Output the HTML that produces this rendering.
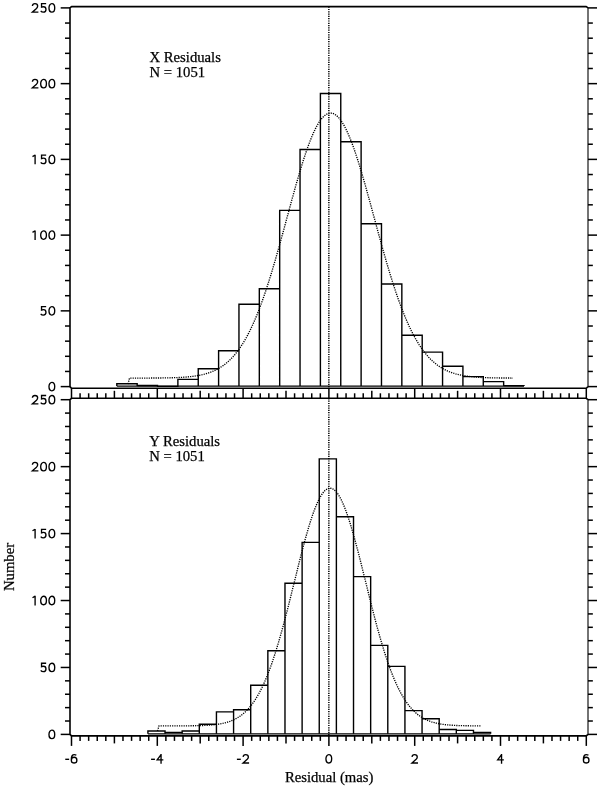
<!DOCTYPE html>
<html><head><meta charset="utf-8"><style>
html,body{margin:0;padding:0;background:#fff;}
body{width:600px;height:790px;overflow:hidden;}
svg{display:block;will-change:transform;}
.tl{font-family:"Liberation Sans",sans-serif;font-size:14px;fill:#000;}
.tt{font-family:"Liberation Serif",serif;font-size:14.7px;fill:#000;}
.tl,.tt{stroke:#000;stroke-width:0.25px;}
</style></head><body>
<svg width="600" height="790" viewBox="0 0 600 790">
<g stroke="#000" stroke-linecap="butt">
<path d="M588.0,7.90 L586.30,6.6 L71.50,6.6 L70.0,7.90 L70.0,386.60 L71.50,388.25 L586.30,388.25 L588.0,386.60" fill="none" stroke-width="1.6" stroke-linejoin="round"/>
<path d="M588.0,7.90 V386.60" fill="none" stroke-width="1.1"/>
<line x1="60.70" y1="386.60" x2="70.00" y2="386.60" stroke-width="1.5" />
<line x1="588.00" y1="386.60" x2="597.02" y2="386.60" stroke-width="1.5" />
<line x1="65.00" y1="371.45" x2="70.00" y2="371.45" stroke-width="1.5" />
<line x1="588.00" y1="371.45" x2="592.85" y2="371.45" stroke-width="1.5" />
<line x1="65.00" y1="356.30" x2="70.00" y2="356.30" stroke-width="1.5" />
<line x1="588.00" y1="356.30" x2="592.85" y2="356.30" stroke-width="1.5" />
<line x1="65.00" y1="341.16" x2="70.00" y2="341.16" stroke-width="1.5" />
<line x1="588.00" y1="341.16" x2="592.85" y2="341.16" stroke-width="1.5" />
<line x1="65.00" y1="326.01" x2="70.00" y2="326.01" stroke-width="1.5" />
<line x1="588.00" y1="326.01" x2="592.85" y2="326.01" stroke-width="1.5" />
<line x1="60.70" y1="310.86" x2="70.00" y2="310.86" stroke-width="1.5" />
<line x1="588.00" y1="310.86" x2="597.02" y2="310.86" stroke-width="1.5" />
<line x1="65.00" y1="295.71" x2="70.00" y2="295.71" stroke-width="1.5" />
<line x1="588.00" y1="295.71" x2="592.85" y2="295.71" stroke-width="1.5" />
<line x1="65.00" y1="280.56" x2="70.00" y2="280.56" stroke-width="1.5" />
<line x1="588.00" y1="280.56" x2="592.85" y2="280.56" stroke-width="1.5" />
<line x1="65.00" y1="265.42" x2="70.00" y2="265.42" stroke-width="1.5" />
<line x1="588.00" y1="265.42" x2="592.85" y2="265.42" stroke-width="1.5" />
<line x1="65.00" y1="250.27" x2="70.00" y2="250.27" stroke-width="1.5" />
<line x1="588.00" y1="250.27" x2="592.85" y2="250.27" stroke-width="1.5" />
<line x1="60.70" y1="235.12" x2="70.00" y2="235.12" stroke-width="1.5" />
<line x1="588.00" y1="235.12" x2="597.02" y2="235.12" stroke-width="1.5" />
<line x1="65.00" y1="219.97" x2="70.00" y2="219.97" stroke-width="1.5" />
<line x1="588.00" y1="219.97" x2="592.85" y2="219.97" stroke-width="1.5" />
<line x1="65.00" y1="204.82" x2="70.00" y2="204.82" stroke-width="1.5" />
<line x1="588.00" y1="204.82" x2="592.85" y2="204.82" stroke-width="1.5" />
<line x1="65.00" y1="189.68" x2="70.00" y2="189.68" stroke-width="1.5" />
<line x1="588.00" y1="189.68" x2="592.85" y2="189.68" stroke-width="1.5" />
<line x1="65.00" y1="174.53" x2="70.00" y2="174.53" stroke-width="1.5" />
<line x1="588.00" y1="174.53" x2="592.85" y2="174.53" stroke-width="1.5" />
<line x1="60.70" y1="159.38" x2="70.00" y2="159.38" stroke-width="1.5" />
<line x1="588.00" y1="159.38" x2="597.02" y2="159.38" stroke-width="1.5" />
<line x1="65.00" y1="144.23" x2="70.00" y2="144.23" stroke-width="1.5" />
<line x1="588.00" y1="144.23" x2="592.85" y2="144.23" stroke-width="1.5" />
<line x1="65.00" y1="129.08" x2="70.00" y2="129.08" stroke-width="1.5" />
<line x1="588.00" y1="129.08" x2="592.85" y2="129.08" stroke-width="1.5" />
<line x1="65.00" y1="113.94" x2="70.00" y2="113.94" stroke-width="1.5" />
<line x1="588.00" y1="113.94" x2="592.85" y2="113.94" stroke-width="1.5" />
<line x1="65.00" y1="98.79" x2="70.00" y2="98.79" stroke-width="1.5" />
<line x1="588.00" y1="98.79" x2="592.85" y2="98.79" stroke-width="1.5" />
<line x1="60.70" y1="83.64" x2="70.00" y2="83.64" stroke-width="1.5" />
<line x1="588.00" y1="83.64" x2="597.02" y2="83.64" stroke-width="1.5" />
<line x1="65.00" y1="68.49" x2="70.00" y2="68.49" stroke-width="1.5" />
<line x1="588.00" y1="68.49" x2="592.85" y2="68.49" stroke-width="1.5" />
<line x1="65.00" y1="53.34" x2="70.00" y2="53.34" stroke-width="1.5" />
<line x1="588.00" y1="53.34" x2="592.85" y2="53.34" stroke-width="1.5" />
<line x1="65.00" y1="38.20" x2="70.00" y2="38.20" stroke-width="1.5" />
<line x1="588.00" y1="38.20" x2="592.85" y2="38.20" stroke-width="1.5" />
<line x1="65.00" y1="23.05" x2="70.00" y2="23.05" stroke-width="1.5" />
<line x1="588.00" y1="23.05" x2="592.85" y2="23.05" stroke-width="1.5" />
<line x1="60.70" y1="7.90" x2="70.00" y2="7.90" stroke-width="1.5" />
<line x1="588.00" y1="7.90" x2="597.02" y2="7.90" stroke-width="1.5" />
<path d="M588.0,399.70 L586.30,398.3 L71.50,398.3 L70.0,399.70 L70.0,734.40 L71.50,735.9 L586.30,735.9 L588.0,734.40" fill="none" stroke-width="1.6" stroke-linejoin="round"/>
<path d="M588.0,399.70 V734.40" fill="none" stroke-width="1.1"/>
<line x1="60.70" y1="734.40" x2="70.00" y2="734.40" stroke-width="1.5" />
<line x1="588.00" y1="734.40" x2="597.02" y2="734.40" stroke-width="1.5" />
<line x1="65.00" y1="721.01" x2="70.00" y2="721.01" stroke-width="1.5" />
<line x1="588.00" y1="721.01" x2="592.85" y2="721.01" stroke-width="1.5" />
<line x1="65.00" y1="707.62" x2="70.00" y2="707.62" stroke-width="1.5" />
<line x1="588.00" y1="707.62" x2="592.85" y2="707.62" stroke-width="1.5" />
<line x1="65.00" y1="694.24" x2="70.00" y2="694.24" stroke-width="1.5" />
<line x1="588.00" y1="694.24" x2="592.85" y2="694.24" stroke-width="1.5" />
<line x1="65.00" y1="680.85" x2="70.00" y2="680.85" stroke-width="1.5" />
<line x1="588.00" y1="680.85" x2="592.85" y2="680.85" stroke-width="1.5" />
<line x1="60.70" y1="667.46" x2="70.00" y2="667.46" stroke-width="1.5" />
<line x1="588.00" y1="667.46" x2="597.02" y2="667.46" stroke-width="1.5" />
<line x1="65.00" y1="654.07" x2="70.00" y2="654.07" stroke-width="1.5" />
<line x1="588.00" y1="654.07" x2="592.85" y2="654.07" stroke-width="1.5" />
<line x1="65.00" y1="640.68" x2="70.00" y2="640.68" stroke-width="1.5" />
<line x1="588.00" y1="640.68" x2="592.85" y2="640.68" stroke-width="1.5" />
<line x1="65.00" y1="627.30" x2="70.00" y2="627.30" stroke-width="1.5" />
<line x1="588.00" y1="627.30" x2="592.85" y2="627.30" stroke-width="1.5" />
<line x1="65.00" y1="613.91" x2="70.00" y2="613.91" stroke-width="1.5" />
<line x1="588.00" y1="613.91" x2="592.85" y2="613.91" stroke-width="1.5" />
<line x1="60.70" y1="600.52" x2="70.00" y2="600.52" stroke-width="1.5" />
<line x1="588.00" y1="600.52" x2="597.02" y2="600.52" stroke-width="1.5" />
<line x1="65.00" y1="587.13" x2="70.00" y2="587.13" stroke-width="1.5" />
<line x1="588.00" y1="587.13" x2="592.85" y2="587.13" stroke-width="1.5" />
<line x1="65.00" y1="573.74" x2="70.00" y2="573.74" stroke-width="1.5" />
<line x1="588.00" y1="573.74" x2="592.85" y2="573.74" stroke-width="1.5" />
<line x1="65.00" y1="560.36" x2="70.00" y2="560.36" stroke-width="1.5" />
<line x1="588.00" y1="560.36" x2="592.85" y2="560.36" stroke-width="1.5" />
<line x1="65.00" y1="546.97" x2="70.00" y2="546.97" stroke-width="1.5" />
<line x1="588.00" y1="546.97" x2="592.85" y2="546.97" stroke-width="1.5" />
<line x1="60.70" y1="533.58" x2="70.00" y2="533.58" stroke-width="1.5" />
<line x1="588.00" y1="533.58" x2="597.02" y2="533.58" stroke-width="1.5" />
<line x1="65.00" y1="520.19" x2="70.00" y2="520.19" stroke-width="1.5" />
<line x1="588.00" y1="520.19" x2="592.85" y2="520.19" stroke-width="1.5" />
<line x1="65.00" y1="506.80" x2="70.00" y2="506.80" stroke-width="1.5" />
<line x1="588.00" y1="506.80" x2="592.85" y2="506.80" stroke-width="1.5" />
<line x1="65.00" y1="493.42" x2="70.00" y2="493.42" stroke-width="1.5" />
<line x1="588.00" y1="493.42" x2="592.85" y2="493.42" stroke-width="1.5" />
<line x1="65.00" y1="480.03" x2="70.00" y2="480.03" stroke-width="1.5" />
<line x1="588.00" y1="480.03" x2="592.85" y2="480.03" stroke-width="1.5" />
<line x1="60.70" y1="466.64" x2="70.00" y2="466.64" stroke-width="1.5" />
<line x1="588.00" y1="466.64" x2="597.02" y2="466.64" stroke-width="1.5" />
<line x1="65.00" y1="453.25" x2="70.00" y2="453.25" stroke-width="1.5" />
<line x1="588.00" y1="453.25" x2="592.85" y2="453.25" stroke-width="1.5" />
<line x1="65.00" y1="439.86" x2="70.00" y2="439.86" stroke-width="1.5" />
<line x1="588.00" y1="439.86" x2="592.85" y2="439.86" stroke-width="1.5" />
<line x1="65.00" y1="426.48" x2="70.00" y2="426.48" stroke-width="1.5" />
<line x1="588.00" y1="426.48" x2="592.85" y2="426.48" stroke-width="1.5" />
<line x1="65.00" y1="413.09" x2="70.00" y2="413.09" stroke-width="1.5" />
<line x1="588.00" y1="413.09" x2="592.85" y2="413.09" stroke-width="1.5" />
<line x1="60.70" y1="399.70" x2="70.00" y2="399.70" stroke-width="1.5" />
<line x1="588.00" y1="399.70" x2="597.02" y2="399.70" stroke-width="1.5" />
<line x1="71.50" y1="398.30" x2="71.50" y2="388.30" stroke-width="1.5" />
<line x1="71.50" y1="735.90" x2="71.50" y2="745.90" stroke-width="1.5" />
<line x1="80.08" y1="398.30" x2="80.08" y2="393.30" stroke-width="1.5" />
<line x1="80.08" y1="735.90" x2="80.08" y2="740.90" stroke-width="1.5" />
<line x1="88.66" y1="398.30" x2="88.66" y2="393.30" stroke-width="1.5" />
<line x1="88.66" y1="735.90" x2="88.66" y2="740.90" stroke-width="1.5" />
<line x1="97.24" y1="398.30" x2="97.24" y2="393.30" stroke-width="1.5" />
<line x1="97.24" y1="735.90" x2="97.24" y2="740.90" stroke-width="1.5" />
<line x1="105.82" y1="398.30" x2="105.82" y2="393.30" stroke-width="1.5" />
<line x1="105.82" y1="735.90" x2="105.82" y2="740.90" stroke-width="1.5" />
<line x1="114.40" y1="398.30" x2="114.40" y2="390.80" stroke-width="1.5" />
<line x1="114.40" y1="735.90" x2="114.40" y2="743.40" stroke-width="1.5" />
<line x1="122.98" y1="398.30" x2="122.98" y2="393.30" stroke-width="1.5" />
<line x1="122.98" y1="735.90" x2="122.98" y2="740.90" stroke-width="1.5" />
<line x1="131.56" y1="398.30" x2="131.56" y2="393.30" stroke-width="1.5" />
<line x1="131.56" y1="735.90" x2="131.56" y2="740.90" stroke-width="1.5" />
<line x1="140.14" y1="398.30" x2="140.14" y2="393.30" stroke-width="1.5" />
<line x1="140.14" y1="735.90" x2="140.14" y2="740.90" stroke-width="1.5" />
<line x1="148.72" y1="398.30" x2="148.72" y2="393.30" stroke-width="1.5" />
<line x1="148.72" y1="735.90" x2="148.72" y2="740.90" stroke-width="1.5" />
<line x1="157.30" y1="398.30" x2="157.30" y2="388.30" stroke-width="1.5" />
<line x1="157.30" y1="735.90" x2="157.30" y2="745.90" stroke-width="1.5" />
<line x1="165.88" y1="398.30" x2="165.88" y2="393.30" stroke-width="1.5" />
<line x1="165.88" y1="735.90" x2="165.88" y2="740.90" stroke-width="1.5" />
<line x1="174.46" y1="398.30" x2="174.46" y2="393.30" stroke-width="1.5" />
<line x1="174.46" y1="735.90" x2="174.46" y2="740.90" stroke-width="1.5" />
<line x1="183.04" y1="398.30" x2="183.04" y2="393.30" stroke-width="1.5" />
<line x1="183.04" y1="735.90" x2="183.04" y2="740.90" stroke-width="1.5" />
<line x1="191.62" y1="398.30" x2="191.62" y2="393.30" stroke-width="1.5" />
<line x1="191.62" y1="735.90" x2="191.62" y2="740.90" stroke-width="1.5" />
<line x1="200.20" y1="398.30" x2="200.20" y2="390.80" stroke-width="1.5" />
<line x1="200.20" y1="735.90" x2="200.20" y2="743.40" stroke-width="1.5" />
<line x1="208.78" y1="398.30" x2="208.78" y2="393.30" stroke-width="1.5" />
<line x1="208.78" y1="735.90" x2="208.78" y2="740.90" stroke-width="1.5" />
<line x1="217.36" y1="398.30" x2="217.36" y2="393.30" stroke-width="1.5" />
<line x1="217.36" y1="735.90" x2="217.36" y2="740.90" stroke-width="1.5" />
<line x1="225.94" y1="398.30" x2="225.94" y2="393.30" stroke-width="1.5" />
<line x1="225.94" y1="735.90" x2="225.94" y2="740.90" stroke-width="1.5" />
<line x1="234.52" y1="398.30" x2="234.52" y2="393.30" stroke-width="1.5" />
<line x1="234.52" y1="735.90" x2="234.52" y2="740.90" stroke-width="1.5" />
<line x1="243.10" y1="398.30" x2="243.10" y2="388.30" stroke-width="1.5" />
<line x1="243.10" y1="735.90" x2="243.10" y2="745.90" stroke-width="1.5" />
<line x1="251.68" y1="398.30" x2="251.68" y2="393.30" stroke-width="1.5" />
<line x1="251.68" y1="735.90" x2="251.68" y2="740.90" stroke-width="1.5" />
<line x1="260.26" y1="398.30" x2="260.26" y2="393.30" stroke-width="1.5" />
<line x1="260.26" y1="735.90" x2="260.26" y2="740.90" stroke-width="1.5" />
<line x1="268.84" y1="398.30" x2="268.84" y2="393.30" stroke-width="1.5" />
<line x1="268.84" y1="735.90" x2="268.84" y2="740.90" stroke-width="1.5" />
<line x1="277.42" y1="398.30" x2="277.42" y2="393.30" stroke-width="1.5" />
<line x1="277.42" y1="735.90" x2="277.42" y2="740.90" stroke-width="1.5" />
<line x1="286.00" y1="398.30" x2="286.00" y2="390.80" stroke-width="1.5" />
<line x1="286.00" y1="735.90" x2="286.00" y2="743.40" stroke-width="1.5" />
<line x1="294.58" y1="398.30" x2="294.58" y2="393.30" stroke-width="1.5" />
<line x1="294.58" y1="735.90" x2="294.58" y2="740.90" stroke-width="1.5" />
<line x1="303.16" y1="398.30" x2="303.16" y2="393.30" stroke-width="1.5" />
<line x1="303.16" y1="735.90" x2="303.16" y2="740.90" stroke-width="1.5" />
<line x1="311.74" y1="398.30" x2="311.74" y2="393.30" stroke-width="1.5" />
<line x1="311.74" y1="735.90" x2="311.74" y2="740.90" stroke-width="1.5" />
<line x1="320.32" y1="398.30" x2="320.32" y2="393.30" stroke-width="1.5" />
<line x1="320.32" y1="735.90" x2="320.32" y2="740.90" stroke-width="1.5" />
<line x1="328.90" y1="398.30" x2="328.90" y2="388.30" stroke-width="1.5" />
<line x1="328.90" y1="735.90" x2="328.90" y2="745.90" stroke-width="1.5" />
<line x1="337.48" y1="398.30" x2="337.48" y2="393.30" stroke-width="1.5" />
<line x1="337.48" y1="735.90" x2="337.48" y2="740.90" stroke-width="1.5" />
<line x1="346.06" y1="398.30" x2="346.06" y2="393.30" stroke-width="1.5" />
<line x1="346.06" y1="735.90" x2="346.06" y2="740.90" stroke-width="1.5" />
<line x1="354.64" y1="398.30" x2="354.64" y2="393.30" stroke-width="1.5" />
<line x1="354.64" y1="735.90" x2="354.64" y2="740.90" stroke-width="1.5" />
<line x1="363.22" y1="398.30" x2="363.22" y2="393.30" stroke-width="1.5" />
<line x1="363.22" y1="735.90" x2="363.22" y2="740.90" stroke-width="1.5" />
<line x1="371.80" y1="398.30" x2="371.80" y2="390.80" stroke-width="1.5" />
<line x1="371.80" y1="735.90" x2="371.80" y2="743.40" stroke-width="1.5" />
<line x1="380.38" y1="398.30" x2="380.38" y2="393.30" stroke-width="1.5" />
<line x1="380.38" y1="735.90" x2="380.38" y2="740.90" stroke-width="1.5" />
<line x1="388.96" y1="398.30" x2="388.96" y2="393.30" stroke-width="1.5" />
<line x1="388.96" y1="735.90" x2="388.96" y2="740.90" stroke-width="1.5" />
<line x1="397.54" y1="398.30" x2="397.54" y2="393.30" stroke-width="1.5" />
<line x1="397.54" y1="735.90" x2="397.54" y2="740.90" stroke-width="1.5" />
<line x1="406.12" y1="398.30" x2="406.12" y2="393.30" stroke-width="1.5" />
<line x1="406.12" y1="735.90" x2="406.12" y2="740.90" stroke-width="1.5" />
<line x1="414.70" y1="398.30" x2="414.70" y2="388.30" stroke-width="1.5" />
<line x1="414.70" y1="735.90" x2="414.70" y2="745.90" stroke-width="1.5" />
<line x1="423.28" y1="398.30" x2="423.28" y2="393.30" stroke-width="1.5" />
<line x1="423.28" y1="735.90" x2="423.28" y2="740.90" stroke-width="1.5" />
<line x1="431.86" y1="398.30" x2="431.86" y2="393.30" stroke-width="1.5" />
<line x1="431.86" y1="735.90" x2="431.86" y2="740.90" stroke-width="1.5" />
<line x1="440.44" y1="398.30" x2="440.44" y2="393.30" stroke-width="1.5" />
<line x1="440.44" y1="735.90" x2="440.44" y2="740.90" stroke-width="1.5" />
<line x1="449.02" y1="398.30" x2="449.02" y2="393.30" stroke-width="1.5" />
<line x1="449.02" y1="735.90" x2="449.02" y2="740.90" stroke-width="1.5" />
<line x1="457.60" y1="398.30" x2="457.60" y2="390.80" stroke-width="1.5" />
<line x1="457.60" y1="735.90" x2="457.60" y2="743.40" stroke-width="1.5" />
<line x1="466.18" y1="398.30" x2="466.18" y2="393.30" stroke-width="1.5" />
<line x1="466.18" y1="735.90" x2="466.18" y2="740.90" stroke-width="1.5" />
<line x1="474.76" y1="398.30" x2="474.76" y2="393.30" stroke-width="1.5" />
<line x1="474.76" y1="735.90" x2="474.76" y2="740.90" stroke-width="1.5" />
<line x1="483.34" y1="398.30" x2="483.34" y2="393.30" stroke-width="1.5" />
<line x1="483.34" y1="735.90" x2="483.34" y2="740.90" stroke-width="1.5" />
<line x1="491.92" y1="398.30" x2="491.92" y2="393.30" stroke-width="1.5" />
<line x1="491.92" y1="735.90" x2="491.92" y2="740.90" stroke-width="1.5" />
<line x1="500.50" y1="398.30" x2="500.50" y2="388.30" stroke-width="1.5" />
<line x1="500.50" y1="735.90" x2="500.50" y2="745.90" stroke-width="1.5" />
<line x1="509.08" y1="398.30" x2="509.08" y2="393.30" stroke-width="1.5" />
<line x1="509.08" y1="735.90" x2="509.08" y2="740.90" stroke-width="1.5" />
<line x1="517.66" y1="398.30" x2="517.66" y2="393.30" stroke-width="1.5" />
<line x1="517.66" y1="735.90" x2="517.66" y2="740.90" stroke-width="1.5" />
<line x1="526.24" y1="398.30" x2="526.24" y2="393.30" stroke-width="1.5" />
<line x1="526.24" y1="735.90" x2="526.24" y2="740.90" stroke-width="1.5" />
<line x1="534.82" y1="398.30" x2="534.82" y2="393.30" stroke-width="1.5" />
<line x1="534.82" y1="735.90" x2="534.82" y2="740.90" stroke-width="1.5" />
<line x1="543.40" y1="398.30" x2="543.40" y2="390.80" stroke-width="1.5" />
<line x1="543.40" y1="735.90" x2="543.40" y2="743.40" stroke-width="1.5" />
<line x1="551.98" y1="398.30" x2="551.98" y2="393.30" stroke-width="1.5" />
<line x1="551.98" y1="735.90" x2="551.98" y2="740.90" stroke-width="1.5" />
<line x1="560.56" y1="398.30" x2="560.56" y2="393.30" stroke-width="1.5" />
<line x1="560.56" y1="735.90" x2="560.56" y2="740.90" stroke-width="1.5" />
<line x1="569.14" y1="398.30" x2="569.14" y2="393.30" stroke-width="1.5" />
<line x1="569.14" y1="735.90" x2="569.14" y2="740.90" stroke-width="1.5" />
<line x1="577.72" y1="398.30" x2="577.72" y2="393.30" stroke-width="1.5" />
<line x1="577.72" y1="735.90" x2="577.72" y2="740.90" stroke-width="1.5" />
<line x1="586.30" y1="398.30" x2="586.30" y2="388.30" stroke-width="1.5" />
<line x1="586.30" y1="735.90" x2="586.30" y2="745.90" stroke-width="1.5" />
<path d="M116.80 386.1V383.80H137.16V386.1M137.16 386.1V385.50H157.52V386.1M157.52 386.1V386.40H177.88V386.1M177.88 386.1V379.40H198.24V386.1M198.24 386.1V368.80H218.60V386.1M218.60 386.1V350.80H238.96V386.1M238.96 386.1V304.20H259.32V386.1M259.32 386.1V288.70H279.68V386.1M279.68 386.1V210.40H300.04V386.1M300.04 386.1V149.50H320.40V386.1M320.40 386.1V93.50H340.76V386.1M340.76 386.1V141.80H361.12V386.1M361.12 386.1V223.70H381.48V386.1M381.48 386.1V284.00H401.84V386.1M401.84 386.1V335.30H422.20V386.1M422.20 386.1V352.10H442.56V386.1M442.56 386.1V366.20H462.92V386.1M462.92 386.1V376.60H483.28V386.1M483.28 386.1V381.60H503.64V386.1M503.64 386.1V385.60H524.00V386.1" fill="none" stroke-width="1.4"/>
<line x1="116.80" y1="386.10" x2="524.00" y2="386.10" stroke-width="1.3" />
<path d="M147.90 733.8V731.00H165.03V733.8M165.03 733.8V732.40H182.17V733.8M182.17 733.8V731.00H199.31V733.8M199.31 733.8V724.20H216.44V733.8M216.44 733.8V711.90H233.58V733.8M233.58 733.8V709.70H250.71V733.8M250.71 733.8V685.30H267.85V733.8M267.85 733.8V650.70H284.98V733.8M284.98 733.8V583.30H302.12V733.8M302.12 733.8V542.40H319.25V733.8M319.25 733.8V458.90H336.38V733.8M336.38 733.8V516.80H353.52V733.8M353.52 733.8V576.60H370.66V733.8M370.66 733.8V645.40H387.79V733.8M387.79 733.8V666.40H404.93V733.8M404.93 733.8V710.60H422.06V733.8M422.06 733.8V718.80H439.20V733.8M439.20 733.8V729.50H456.33V733.8M456.33 733.8V730.40H473.47V733.8M473.47 733.8V732.40H490.60V733.8" fill="none" stroke-width="1.4"/>
<line x1="147.90" y1="733.80" x2="490.60" y2="733.80" stroke-width="1.3" />
<path d="M128,384 L129.50,378.09 L131.42,378.09 L133.34,378.09 L135.25,378.09 L137.17,378.09 L139.09,378.08 L141.00,378.08 L142.92,378.08 L144.84,378.07 L146.76,378.06 L148.68,378.06 L150.59,378.05 L152.51,378.04 L154.43,378.03 L156.34,378.01 L158.26,378.00 L160.18,377.98 L162.10,377.95 L164.01,377.93 L165.93,377.90 L167.85,377.86 L169.77,377.82 L171.69,377.76 L173.60,377.71 L175.52,377.64 L177.44,377.56 L179.35,377.47 L181.27,377.37 L183.19,377.25 L185.11,377.11 L187.03,376.96 L188.94,376.78 L190.86,376.58 L192.78,376.35 L194.69,376.09 L196.61,375.79 L198.53,375.46 L200.45,375.08 L202.37,374.66 L204.28,374.19 L206.20,373.66 L208.12,373.07 L210.03,372.41 L211.95,371.68 L213.87,370.86 L215.79,369.96 L217.70,368.97 L219.62,367.87 L221.54,366.66 L223.46,365.34 L225.38,363.89 L227.29,362.31 L229.21,360.58 L231.13,358.70 L233.05,356.67 L234.96,354.46 L236.88,352.08 L238.80,349.52 L240.72,346.76 L242.63,343.80 L244.55,340.64 L246.47,337.27 L248.38,333.68 L250.30,329.87 L252.22,325.83 L254.14,321.56 L256.06,317.07 L257.97,312.34 L259.89,307.39 L261.81,302.21 L263.73,296.81 L265.64,291.20 L267.56,285.37 L269.48,279.35 L271.39,273.15 L273.31,266.76 L275.23,260.22 L277.15,253.54 L279.06,246.74 L280.98,239.83 L282.90,232.84 L284.82,225.80 L286.74,218.72 L288.65,211.64 L290.57,204.58 L292.49,197.57 L294.40,190.64 L296.32,183.83 L298.24,177.16 L300.16,170.66 L302.07,164.37 L303.99,158.31 L305.91,152.52 L307.83,147.03 L309.75,141.87 L311.66,137.06 L313.58,132.63 L315.50,128.60 L317.41,125.00 L319.33,121.84 L321.25,119.15 L323.17,116.94 L325.09,115.22 L327.00,114.00 L328.92,113.30 L330.84,113.10 L332.75,113.42 L334.67,114.26 L336.59,115.60 L338.51,117.44 L340.43,119.77 L342.34,122.58 L344.26,125.85 L346.18,129.56 L348.10,133.69 L350.01,138.22 L351.93,143.12 L353.85,148.37 L355.76,153.93 L357.68,159.79 L359.60,165.90 L361.52,172.25 L363.44,178.79 L365.35,185.50 L367.27,192.35 L369.19,199.30 L371.11,206.32 L373.02,213.39 L374.94,220.47 L376.86,227.54 L378.77,234.58 L380.69,241.55 L382.61,248.43 L384.53,255.21 L386.44,261.86 L388.36,268.36 L390.28,274.70 L392.20,280.86 L394.12,286.84 L396.03,292.61 L397.95,298.17 L399.87,303.52 L401.79,308.64 L403.70,313.54 L405.62,318.20 L407.54,322.64 L409.45,326.85 L411.37,330.83 L413.29,334.59 L415.21,338.13 L417.12,341.45 L419.04,344.56 L420.96,347.46 L422.88,350.17 L424.80,352.69 L426.71,355.02 L428.63,357.19 L430.55,359.18 L432.46,361.02 L434.38,362.71 L436.30,364.26 L438.22,365.68 L440.13,366.97 L442.05,368.15 L443.97,369.22 L445.89,370.19 L447.81,371.07 L449.72,371.86 L451.64,372.58 L453.56,373.22 L455.48,373.80 L457.39,374.31 L459.31,374.77 L461.23,375.18 L463.14,375.55 L465.06,375.87 L466.98,376.16 L468.90,376.41 L470.81,376.63 L472.73,376.83 L474.65,377.00 L476.57,377.15 L478.49,377.28 L480.40,377.40 L482.32,377.50 L484.24,377.58 L486.15,377.66 L488.07,377.72 L489.99,377.78 L491.91,377.83 L493.82,377.87 L495.74,377.90 L497.66,377.93 L499.58,377.96 L501.50,377.98 L503.41,378.00 L505.33,378.02 L507.25,378.03 L509.17,378.04 L511.08,378.05 L513.00,378.06" fill="none" stroke-width="1.35" stroke-dasharray="1.2 1.1"/>
<path d="M157.5,731 L159.00,725.90 L160.61,725.90 L162.22,725.90 L163.83,725.90 L165.45,725.89 L167.06,725.89 L168.67,725.89 L170.28,725.89 L171.89,725.89 L173.50,725.88 L175.12,725.88 L176.73,725.88 L178.34,725.87 L179.95,725.87 L181.56,725.86 L183.17,725.85 L184.78,725.84 L186.40,725.83 L188.01,725.82 L189.62,725.80 L191.23,725.78 L192.84,725.76 L194.45,725.73 L196.06,725.70 L197.68,725.66 L199.29,725.62 L200.90,725.57 L202.51,725.51 L204.12,725.44 L205.73,725.36 L207.34,725.27 L208.96,725.17 L210.57,725.04 L212.18,724.91 L213.79,724.75 L215.40,724.56 L217.01,724.36 L218.63,724.12 L220.24,723.85 L221.85,723.55 L223.46,723.20 L225.07,722.81 L226.68,722.38 L228.29,721.88 L229.91,721.34 L231.52,720.72 L233.13,720.04 L234.74,719.27 L236.35,718.43 L237.96,717.49 L239.57,716.46 L241.19,715.32 L242.80,714.07 L244.41,712.69 L246.02,711.19 L247.63,709.55 L249.24,707.76 L250.86,705.82 L252.47,703.72 L254.08,701.44 L255.69,698.99 L257.30,696.35 L258.91,693.53 L260.52,690.50 L262.14,687.27 L263.75,683.83 L265.36,680.18 L266.97,676.31 L268.58,672.23 L270.19,667.93 L271.81,663.42 L273.42,658.69 L275.03,653.75 L276.64,648.60 L278.25,643.26 L279.86,637.73 L281.47,632.02 L283.09,626.15 L284.70,620.13 L286.31,613.97 L287.92,607.69 L289.53,601.33 L291.14,594.88 L292.75,588.39 L294.37,581.87 L295.98,575.34 L297.59,568.85 L299.20,562.41 L300.81,556.05 L302.42,549.81 L304.03,543.71 L305.65,537.79 L307.26,532.07 L308.87,526.59 L310.48,521.37 L312.09,516.45 L313.70,511.84 L315.32,507.59 L316.93,503.70 L318.54,500.21 L320.15,497.13 L321.76,494.48 L323.37,492.28 L324.98,490.55 L326.60,489.28 L328.21,488.50 L329.82,488.20 L331.43,488.39 L333.04,489.07 L334.65,490.22 L336.26,491.85 L337.88,493.95 L339.49,496.49 L341.10,499.48 L342.71,502.88 L344.32,506.68 L345.93,510.86 L347.55,515.38 L349.16,520.24 L350.77,525.39 L352.38,530.82 L353.99,536.49 L355.60,542.37 L357.21,548.43 L358.83,554.64 L360.44,560.97 L362.05,567.40 L363.66,573.88 L365.27,580.40 L366.88,586.92 L368.50,593.43 L370.11,599.88 L371.72,606.27 L373.33,612.57 L374.94,618.75 L376.55,624.81 L378.16,630.72 L379.78,636.46 L381.39,642.03 L383.00,647.42 L384.61,652.61 L386.22,657.59 L387.83,662.37 L389.44,666.94 L391.06,671.29 L392.67,675.42 L394.28,679.33 L395.89,683.03 L397.50,686.52 L399.11,689.79 L400.73,692.86 L402.34,695.74 L403.95,698.41 L405.56,700.91 L407.17,703.22 L408.78,705.36 L410.39,707.34 L412.01,709.16 L413.62,710.83 L415.23,712.37 L416.84,713.77 L418.45,715.05 L420.06,716.21 L421.67,717.27 L423.29,718.23 L424.90,719.09 L426.51,719.87 L428.12,720.57 L429.73,721.20 L431.34,721.77 L432.95,722.27 L434.57,722.72 L436.18,723.12 L437.79,723.47 L439.40,723.78 L441.01,724.06 L442.62,724.31 L444.24,724.52 L445.85,724.71 L447.46,724.87 L449.07,725.02 L450.68,725.14 L452.29,725.25 L453.90,725.34 L455.52,725.42 L457.13,725.50 L458.74,725.56 L460.35,725.61 L461.96,725.65 L463.57,725.69 L465.19,725.72 L466.80,725.75 L468.41,725.78 L470.02,725.80 L471.63,725.81 L473.24,725.83 L474.85,725.84 L476.47,725.85 L478.08,725.86 L479.69,725.87 L481.30,725.87" fill="none" stroke-width="1.35" stroke-dasharray="1.2 1.1"/>
<line x1="328.85" y1="6.60" x2="328.85" y2="388.25" stroke-width="1.5" stroke-dasharray="1.2 1.1"/>
<line x1="328.85" y1="398.30" x2="328.85" y2="735.90" stroke-width="1.5" stroke-dasharray="1.2 1.1"/>
</g>
<g fill="none" stroke="#000" stroke-width="1.35" stroke-linejoin="miter">
<path transform="translate(48.30,381.70)" d="M3.55,0.675 C5.15,0.675 6.425,2.57 6.425,4.9 C6.425,7.23 5.15,9.125 3.55,9.125 C1.95,9.125 0.675,7.23 0.675,4.9 C0.675,2.57 1.95,0.675 3.55,0.675 Z"/>
<path transform="translate(40.15,305.96)" d="M6.0,0.675 H1.4 V4.1 C2.0,3.85 2.7,3.7 3.3,3.7 C4.8,3.7 5.825,4.9 5.825,6.4 C5.825,7.95 4.7,9.125 3.2,9.125 C2.1,9.125 1.1,8.6 0.55,7.85"/>
<path transform="translate(48.30,305.96)" d="M3.55,0.675 C5.15,0.675 6.425,2.57 6.425,4.9 C6.425,7.23 5.15,9.125 3.55,9.125 C1.95,9.125 0.675,7.23 0.675,4.9 C0.675,2.57 1.95,0.675 3.55,0.675 Z"/>
<path transform="translate(32.00,230.22)" d="M0.5,2.1 L3.1,0.55 M3.1,0.2 V9.8"/>
<path transform="translate(40.00,230.22)" d="M3.55,0.675 C5.15,0.675 6.425,2.57 6.425,4.9 C6.425,7.23 5.15,9.125 3.55,9.125 C1.95,9.125 0.675,7.23 0.675,4.9 C0.675,2.57 1.95,0.675 3.55,0.675 Z"/>
<path transform="translate(48.30,230.22)" d="M3.55,0.675 C5.15,0.675 6.425,2.57 6.425,4.9 C6.425,7.23 5.15,9.125 3.55,9.125 C1.95,9.125 0.675,7.23 0.675,4.9 C0.675,2.57 1.95,0.675 3.55,0.675 Z"/>
<path transform="translate(32.00,154.48)" d="M0.5,2.1 L3.1,0.55 M3.1,0.2 V9.8"/>
<path transform="translate(40.15,154.48)" d="M6.0,0.675 H1.4 V4.1 C2.0,3.85 2.7,3.7 3.3,3.7 C4.8,3.7 5.825,4.9 5.825,6.4 C5.825,7.95 4.7,9.125 3.2,9.125 C2.1,9.125 1.1,8.6 0.55,7.85"/>
<path transform="translate(48.30,154.48)" d="M3.55,0.675 C5.15,0.675 6.425,2.57 6.425,4.9 C6.425,7.23 5.15,9.125 3.55,9.125 C1.95,9.125 0.675,7.23 0.675,4.9 C0.675,2.57 1.95,0.675 3.55,0.675 Z"/>
<path transform="translate(31.60,78.74)" d="M0.8,3.0 C0.9,1.6 2.0,0.675 3.35,0.675 C4.9,0.675 6.05,1.7 6.05,3.05 C6.05,4.0 5.6,4.7 4.9,5.4 L0.75,9.125 H6.8"/>
<path transform="translate(40.00,78.74)" d="M3.55,0.675 C5.15,0.675 6.425,2.57 6.425,4.9 C6.425,7.23 5.15,9.125 3.55,9.125 C1.95,9.125 0.675,7.23 0.675,4.9 C0.675,2.57 1.95,0.675 3.55,0.675 Z"/>
<path transform="translate(48.30,78.74)" d="M3.55,0.675 C5.15,0.675 6.425,2.57 6.425,4.9 C6.425,7.23 5.15,9.125 3.55,9.125 C1.95,9.125 0.675,7.23 0.675,4.9 C0.675,2.57 1.95,0.675 3.55,0.675 Z"/>
<path transform="translate(31.60,3.00)" d="M0.8,3.0 C0.9,1.6 2.0,0.675 3.35,0.675 C4.9,0.675 6.05,1.7 6.05,3.05 C6.05,4.0 5.6,4.7 4.9,5.4 L0.75,9.125 H6.8"/>
<path transform="translate(40.15,3.00)" d="M6.0,0.675 H1.4 V4.1 C2.0,3.85 2.7,3.7 3.3,3.7 C4.8,3.7 5.825,4.9 5.825,6.4 C5.825,7.95 4.7,9.125 3.2,9.125 C2.1,9.125 1.1,8.6 0.55,7.85"/>
<path transform="translate(48.30,3.00)" d="M3.55,0.675 C5.15,0.675 6.425,2.57 6.425,4.9 C6.425,7.23 5.15,9.125 3.55,9.125 C1.95,9.125 0.675,7.23 0.675,4.9 C0.675,2.57 1.95,0.675 3.55,0.675 Z"/>
<path transform="translate(48.30,729.50)" d="M3.55,0.675 C5.15,0.675 6.425,2.57 6.425,4.9 C6.425,7.23 5.15,9.125 3.55,9.125 C1.95,9.125 0.675,7.23 0.675,4.9 C0.675,2.57 1.95,0.675 3.55,0.675 Z"/>
<path transform="translate(40.15,662.56)" d="M6.0,0.675 H1.4 V4.1 C2.0,3.85 2.7,3.7 3.3,3.7 C4.8,3.7 5.825,4.9 5.825,6.4 C5.825,7.95 4.7,9.125 3.2,9.125 C2.1,9.125 1.1,8.6 0.55,7.85"/>
<path transform="translate(48.30,662.56)" d="M3.55,0.675 C5.15,0.675 6.425,2.57 6.425,4.9 C6.425,7.23 5.15,9.125 3.55,9.125 C1.95,9.125 0.675,7.23 0.675,4.9 C0.675,2.57 1.95,0.675 3.55,0.675 Z"/>
<path transform="translate(32.00,595.62)" d="M0.5,2.1 L3.1,0.55 M3.1,0.2 V9.8"/>
<path transform="translate(40.00,595.62)" d="M3.55,0.675 C5.15,0.675 6.425,2.57 6.425,4.9 C6.425,7.23 5.15,9.125 3.55,9.125 C1.95,9.125 0.675,7.23 0.675,4.9 C0.675,2.57 1.95,0.675 3.55,0.675 Z"/>
<path transform="translate(48.30,595.62)" d="M3.55,0.675 C5.15,0.675 6.425,2.57 6.425,4.9 C6.425,7.23 5.15,9.125 3.55,9.125 C1.95,9.125 0.675,7.23 0.675,4.9 C0.675,2.57 1.95,0.675 3.55,0.675 Z"/>
<path transform="translate(32.00,528.68)" d="M0.5,2.1 L3.1,0.55 M3.1,0.2 V9.8"/>
<path transform="translate(40.15,528.68)" d="M6.0,0.675 H1.4 V4.1 C2.0,3.85 2.7,3.7 3.3,3.7 C4.8,3.7 5.825,4.9 5.825,6.4 C5.825,7.95 4.7,9.125 3.2,9.125 C2.1,9.125 1.1,8.6 0.55,7.85"/>
<path transform="translate(48.30,528.68)" d="M3.55,0.675 C5.15,0.675 6.425,2.57 6.425,4.9 C6.425,7.23 5.15,9.125 3.55,9.125 C1.95,9.125 0.675,7.23 0.675,4.9 C0.675,2.57 1.95,0.675 3.55,0.675 Z"/>
<path transform="translate(31.60,461.74)" d="M0.8,3.0 C0.9,1.6 2.0,0.675 3.35,0.675 C4.9,0.675 6.05,1.7 6.05,3.05 C6.05,4.0 5.6,4.7 4.9,5.4 L0.75,9.125 H6.8"/>
<path transform="translate(40.00,461.74)" d="M3.55,0.675 C5.15,0.675 6.425,2.57 6.425,4.9 C6.425,7.23 5.15,9.125 3.55,9.125 C1.95,9.125 0.675,7.23 0.675,4.9 C0.675,2.57 1.95,0.675 3.55,0.675 Z"/>
<path transform="translate(48.30,461.74)" d="M3.55,0.675 C5.15,0.675 6.425,2.57 6.425,4.9 C6.425,7.23 5.15,9.125 3.55,9.125 C1.95,9.125 0.675,7.23 0.675,4.9 C0.675,2.57 1.95,0.675 3.55,0.675 Z"/>
<path transform="translate(31.60,394.80)" d="M0.8,3.0 C0.9,1.6 2.0,0.675 3.35,0.675 C4.9,0.675 6.05,1.7 6.05,3.05 C6.05,4.0 5.6,4.7 4.9,5.4 L0.75,9.125 H6.8"/>
<path transform="translate(40.15,394.80)" d="M6.0,0.675 H1.4 V4.1 C2.0,3.85 2.7,3.7 3.3,3.7 C4.8,3.7 5.825,4.9 5.825,6.4 C5.825,7.95 4.7,9.125 3.2,9.125 C2.1,9.125 1.1,8.6 0.55,7.85"/>
<path transform="translate(48.30,394.80)" d="M3.55,0.675 C5.15,0.675 6.425,2.57 6.425,4.9 C6.425,7.23 5.15,9.125 3.55,9.125 C1.95,9.125 0.675,7.23 0.675,4.9 C0.675,2.57 1.95,0.675 3.55,0.675 Z"/>
<path transform="translate(65.25,753.90)" d="M0,5.4 H3.9"/>
<path transform="translate(70.65,753.90)" d="M5.7,1.35 C5.1,0.9 4.4,0.675 3.6,0.675 C1.8,0.675 0.675,2.7 0.675,5.3 C0.675,5.6 0.675,6.0 0.7,6.3 M3.45,3.35 C5.0,3.35 6.225,4.6 6.225,6.24 C6.225,7.85 5.0,9.125 3.45,9.125 C1.9,9.125 0.675,7.85 0.675,6.24 C0.675,4.6 1.9,3.35 3.45,3.35 Z"/>
<path transform="translate(151.05,753.90)" d="M0,5.4 H3.9"/>
<path transform="translate(156.45,753.90)" d="M6.9,6.0 H0.7 L4.6,0.675 M4.6,0.1 V9.8"/>
<path transform="translate(236.90,753.90)" d="M0,5.4 H3.9"/>
<path transform="translate(242.30,753.90)" d="M0.8,3.0 C0.9,1.6 2.0,0.675 3.35,0.675 C4.9,0.675 6.05,1.7 6.05,3.05 C6.05,4.0 5.6,4.7 4.9,5.4 L0.75,9.125 H6.8"/>
<path transform="translate(325.25,753.90)" d="M3.55,0.675 C5.15,0.675 6.425,2.57 6.425,4.9 C6.425,7.23 5.15,9.125 3.55,9.125 C1.95,9.125 0.675,7.23 0.675,4.9 C0.675,2.57 1.95,0.675 3.55,0.675 Z"/>
<path transform="translate(411.20,753.90)" d="M0.8,3.0 C0.9,1.6 2.0,0.675 3.35,0.675 C4.9,0.675 6.05,1.7 6.05,3.05 C6.05,4.0 5.6,4.7 4.9,5.4 L0.75,9.125 H6.8"/>
<path transform="translate(496.95,753.90)" d="M6.9,6.0 H0.7 L4.6,0.675 M4.6,0.1 V9.8"/>
<path transform="translate(582.75,753.90)" d="M5.7,1.35 C5.1,0.9 4.4,0.675 3.6,0.675 C1.8,0.675 0.675,2.7 0.675,5.3 C0.675,5.6 0.675,6.0 0.7,6.3 M3.45,3.35 C5.0,3.35 6.225,4.6 6.225,6.24 C6.225,7.85 5.0,9.125 3.45,9.125 C1.9,9.125 0.675,7.85 0.675,6.24 C0.675,4.6 1.9,3.35 3.45,3.35 Z"/>
</g>
<text class="tt" x="149.5" y="61.7">X Residuals</text>
<text class="tt" x="149.5" y="76.7">N = 1051</text>
<text class="tt" x="149.2" y="445.5">Y Residuals</text>
<text class="tt" x="149.2" y="460.5">N = 1051</text>
<text class="tt" x="329.15" y="782.3" text-anchor="middle">Residual (mas)</text>
<text class="tt" transform="translate(13.9,567) rotate(-90)" text-anchor="middle">Number</text>
</svg>
</body></html>
